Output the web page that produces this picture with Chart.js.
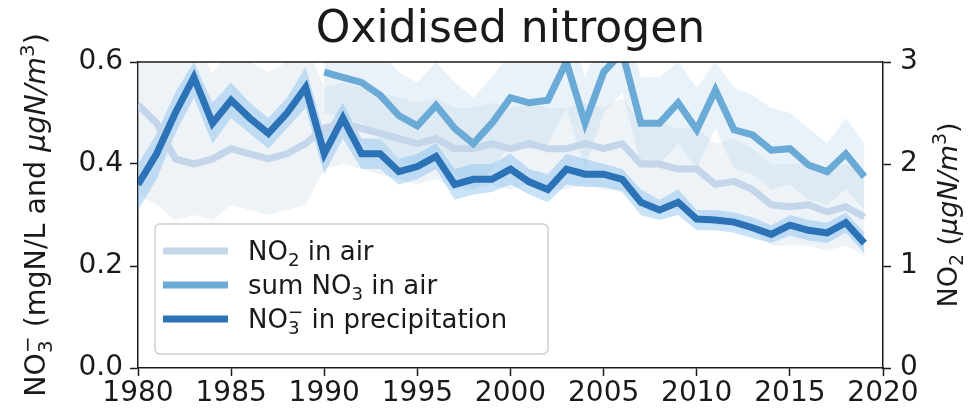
<!DOCTYPE html>
<html>
<head>
<meta charset="utf-8">
<script src="https://cdn.jsdelivr.net/npm/chart.js@4.4.1/dist/chart.umd.min.js"></script>
<style>
  html, body { margin: 0; padding: 0; background: #fff; }
  #chart { display: block; }
</style>
</head>
<body>
<canvas id="chart" width="979" height="418"></canvas>
<script>
const years = [1980, 1981, 1982, 1983, 1984, 1985, 1986, 1987, 1988, 1989,
               1990, 1991, 1992, 1993, 1994, 1995, 1996, 1997, 1998, 1999,
               2000, 2001, 2002, 2003, 2004, 2005, 2006, 2007, 2008, 2009,
               2010, 2011, 2012, 2013, 2014, 2015, 2016, 2017, 2018, 2019];

// NO2 in air, µgN/m3 (right axis)
const no2Air  = [2.58, 2.40, 2.05, 2.00, 2.05, 2.15, 2.10, 2.05, 2.10, 2.20,
                 2.35, 2.40, 2.35, 2.30, 2.25, 2.20, 2.25, 2.15, 2.15, 2.20,
                 2.15, 2.20, 2.15, 2.15, 2.20, 2.15, 2.20, 2.00, 2.00, 1.95,
                 1.95, 1.80, 1.83, 1.75, 1.60, 1.58, 1.60, 1.53, 1.58, 1.48];
const no2High = [3.10, 3.00, 3.20, 3.20, 2.90, 3.10, 3.00, 2.90, 3.00, 3.20,
                 2.75, 2.80, 2.75, 2.70, 2.65, 2.60, 2.65, 2.55, 2.55, 2.60,
                 2.55, 2.60, 2.55, 2.55, 2.60, 2.55, 2.65, 2.40, 2.40, 2.35,
                 2.35, 2.20, 2.25, 2.15, 2.00, 2.00, 2.00, 1.95, 2.00, 1.90];
const no2Low  = [1.70, 1.60, 1.45, 1.50, 1.45, 1.60, 1.55, 1.50, 1.55, 1.60,
                 1.95, 2.00, 1.95, 1.90, 1.85, 1.80, 1.85, 1.75, 1.75, 1.80,
                 1.75, 1.80, 1.75, 1.75, 1.80, 1.75, 1.75, 1.60, 1.60, 1.55,
                 1.55, 1.40, 1.40, 1.35, 1.20, 1.20, 1.20, 1.15, 1.20, 1.10];

// sum NO3 in air, µgN/m3 (left axis), series starts in 1990
const sumNo3Air  = [null, null, null, null, null, null, null, null, null, null,
                    0.580, 0.570, 0.560, 0.535, 0.495, 0.475, 0.515, 0.470, 0.440, 0.480,
                    0.530, 0.520, 0.525, 0.600, 0.480, 0.580, 0.620, 0.480, 0.480, 0.520,
                    0.467, 0.545, 0.467, 0.457, 0.427, 0.430, 0.398, 0.385, 0.420, 0.375];
const sumNo3High = [null, null, null, null, null, null, null, null, null, null,
                    0.66, 0.65, 0.64, 0.62, 0.58, 0.56, 0.60, 0.56, 0.53, 0.57,
                    0.62, 0.61, 0.61, 0.69, 0.57, 0.66, 0.70, 0.57, 0.57, 0.60,
                    0.55, 0.60, 0.55, 0.535, 0.51, 0.50, 0.47, 0.44, 0.49, 0.44];
const sumNo3Low  = [null, null, null, null, null, null, null, null, null, null,
                    0.50, 0.49, 0.48, 0.45, 0.41, 0.39, 0.43, 0.38, 0.35, 0.39,
                    0.44, 0.43, 0.44, 0.51, 0.39, 0.50, 0.54, 0.40, 0.40, 0.44,
                    0.39, 0.47, 0.39, 0.38, 0.35, 0.36, 0.33, 0.32, 0.35, 0.31];

// NO3- in precipitation, mgN/L (left axis)
const no3Precip  = [0.360, 0.420, 0.500, 0.570, 0.480, 0.525, 0.490, 0.460, 0.500, 0.550,
                    0.420, 0.490, 0.420, 0.420, 0.385, 0.395, 0.415, 0.360, 0.370, 0.370,
                    0.390, 0.365, 0.350, 0.390, 0.380, 0.380, 0.370, 0.325, 0.310, 0.325,
                    0.292, 0.290, 0.286, 0.275, 0.262, 0.280, 0.270, 0.265, 0.285, 0.245];
const precipHigh = [0.40, 0.46, 0.54, 0.60, 0.52, 0.56, 0.52, 0.49, 0.53, 0.59,
                    0.46, 0.52, 0.45, 0.45, 0.41, 0.42, 0.44, 0.39, 0.40, 0.40,
                    0.42, 0.39, 0.38, 0.42, 0.41, 0.40, 0.39, 0.35, 0.33, 0.35,
                    0.31, 0.31, 0.305, 0.295, 0.28, 0.30, 0.29, 0.285, 0.305, 0.265];
const precipLow  = [0.31, 0.37, 0.46, 0.53, 0.44, 0.49, 0.46, 0.43, 0.47, 0.51,
                    0.38, 0.45, 0.39, 0.39, 0.36, 0.37, 0.39, 0.33, 0.34, 0.345,
                    0.36, 0.34, 0.325, 0.36, 0.355, 0.355, 0.345, 0.30, 0.29, 0.30,
                    0.27, 0.27, 0.265, 0.255, 0.245, 0.26, 0.25, 0.245, 0.265, 0.225];

const xTicks = [1980, 1985, 1990, 1995, 2000, 2005, 2010, 2015, 2020];
const leftTicks = [0.0, 0.2, 0.4, 0.6];
const rightTicks = [0, 1, 2, 3];

const FONT = "'DejaVu Sans', 'Liberation Sans', sans-serif";
const INK = '#1a1a1a';

const COLORS = {
  no2:    '#c4d6ea',
  sum:    '#6aaad7',
  precip: '#2c72b7',
};

// rich text pieces: {t, it} plain, {sub, sup} small scripts
const chartTitle = 'Oxidised nitrogen';
const leftTitle  = [{ t: 'NO' }, { sub: '3', sup: '\u2212' }, { t: ' (mgN/L and ' }, { t: '\u03bcgN/m', it: true }, { sup: '3' }, { t: ')' }];
const rightTitle = [{ t: 'NO' }, { sub: '2' }, { t: ' (' }, { t: '\u03bcgN/m', it: true }, { sup: '3' }, { t: ')' }];
const legendLabels = [
  { parts: [{ t: 'NO' }, { sub: '2' }, { t: ' in air' }], color: COLORS.no2 },
  { parts: [{ t: 'sum NO' }, { sub: '3' }, { t: ' in air' }], color: COLORS.sum },
  { parts: [{ t: 'NO' }, { sub: '3', sup: '\u2212' }, { t: ' in precipitation' }], color: COLORS.precip },
];

const pts = arr => years.map((yr, i) => ({ x: yr, y: arr[i] }));

function richWidth(ctx, parts, size) {
  let w = 0;
  for (const p of parts) {
    if (p.sub != null || p.sup != null) {
      ctx.font = `${size * 0.7}px ${FONT}`;
      w += Math.max(p.sub ? ctx.measureText(p.sub).width : 0, p.sup ? ctx.measureText(p.sup).width : 0);
    } else {
      ctx.font = `${p.it ? 'italic ' : ''}${size}px ${FONT}`;
      w += ctx.measureText(p.t).width;
    }
  }
  return w;
}

function drawRich(ctx, parts, x, y, size) {
  ctx.textBaseline = 'alphabetic';
  ctx.textAlign = 'left';
  for (const p of parts) {
    if (p.sub != null || p.sup != null) {
      ctx.font = `${size * 0.7}px ${FONT}`;
      let w = 0;
      if (p.sub) { ctx.fillText(p.sub, x, y + size * 0.22); w = ctx.measureText(p.sub).width; }
      if (p.sup) { ctx.fillText(p.sup, x, y - size * 0.4); w = Math.max(w, ctx.measureText(p.sup).width); }
      x += w;
    } else {
      ctx.font = `${p.it ? 'italic ' : ''}${size}px ${FONT}`;
      ctx.fillText(p.t, x, y);
      x += ctx.measureText(p.t).width;
    }
  }
}

const decorPlugin = {
  id: 'decor',
  afterDraw(chart) {
    const { ctx, chartArea: a } = chart;
    ctx.save();

    // top spine
    ctx.strokeStyle = INK;
    ctx.lineWidth = 1.5;
    ctx.beginPath();
    ctx.moveTo(a.left, a.top);
    ctx.lineTo(a.right, a.top);
    ctx.stroke();

    // axis titles, both read bottom to top
    ctx.fillStyle = INK;
    const cy = (a.top + a.bottom) / 2;
    [[leftTitle, 35, 28.5], [rightTitle, 947, 27]].forEach(([parts, cx, size]) => {
      const w = richWidth(ctx, parts, size);
      ctx.save();
      ctx.translate(cx, cy);
      ctx.rotate(-Math.PI / 2);
      drawRich(ctx, parts, -w / 2, size * 0.36, size);
      ctx.restore();
    });

    // legend box
    const bx = a.left + 17, by = a.top + 162, bw = 393, bh = 130;
    ctx.fillStyle = 'rgba(255,255,255,0.8)';
    ctx.strokeStyle = '#cfcfcf';
    ctx.lineWidth = 1.5;
    ctx.beginPath();
    ctx.roundRect(bx, by, bw, bh, 5);
    ctx.fill();
    ctx.stroke();

    legendLabels.forEach((item, i) => {
      const y = by + 27 + i * 34;
      ctx.strokeStyle = item.color;
      ctx.lineWidth = 7;
      ctx.lineCap = 'butt';
      ctx.beginPath();
      ctx.moveTo(bx + 8, y);
      ctx.lineTo(bx + 73, y);
      ctx.stroke();
      ctx.fillStyle = INK;
      drawRich(ctx, item.parts, bx + 93, y + 9, 26);
    });

    ctx.restore();
  }
};

const band = (hi, lo, axis, fillColor, order) => ([
  { data: pts(hi), yAxisID: axis, borderWidth: 0, pointRadius: 0, fill: '+1', backgroundColor: fillColor, order, tension: 0 },
  { data: pts(lo), yAxisID: axis, borderWidth: 0, pointRadius: 0, fill: false, order, tension: 0 },
]);

const line = (arr, axis, color, order) => ({
  data: pts(arr), yAxisID: axis, borderColor: color, borderWidth: 7, pointRadius: 0,
  fill: false, order, tension: 0, borderJoinStyle: 'miter', spanGaps: false,
});

const axisStyle = {
  grid: { drawOnChartArea: false, tickLength: 8, tickColor: INK, tickWidth: 1.5 },
  border: { color: INK, width: 1.5 },
};

new Chart(document.getElementById('chart'), {
  type: 'line',
  data: {
    datasets: [
      line(no3Precip, 'y', COLORS.precip, 0),
      line(sumNo3Air, 'y', COLORS.sum, 1),
      line(no2Air, 'y2', COLORS.no2, 2),
      ...band(precipHigh, precipLow, 'y', 'rgba(125,185,235,0.42)', 3),
      ...band(sumNo3High, sumNo3Low, 'y', 'rgba(175,208,234,0.28)', 4),
      ...band(no2High, no2Low, 'y2', 'rgba(202,218,235,0.33)', 5),
    ]
  },
  options: {
    responsive: false,
    animation: false,
    layout: { padding: 0 },
    plugins: {
      legend: { display: false },
      tooltip: { enabled: false },
      title: {
        display: true,
        text: chartTitle,
        color: INK,
        fullSize: false,
        font: { family: FONT, size: 44, weight: 'normal', lineHeight: 1.2 },
        padding: { top: 4, bottom: 5.2 },
      },
    },
    scales: {
      x: {
        type: 'linear', min: 1980, max: 2020,
        afterBuildTicks: s => { s.ticks = xTicks.map(v => ({ value: v })); },
        ticks: { callback: v => String(v), font: { family: FONT, size: 28 }, color: INK, padding: 1, maxRotation: 0, autoSkip: false },
        afterFit: s => { s.height = 50; },
        ...axisStyle,
      },
      y: {
        position: 'left', min: 0, max: 0.6,
        afterBuildTicks: s => { s.ticks = leftTicks.map(v => ({ value: v })); },
        ticks: { callback: v => v.toFixed(1), font: { family: FONT, size: 28 }, color: INK, padding: 7 },
        afterFit: s => { s.width = 138; },
        ...axisStyle,
      },
      y2: {
        position: 'right', min: 0, max: 3,
        afterBuildTicks: s => { s.ticks = rightTicks.map(v => ({ value: v })); },
        ticks: { callback: v => String(v), font: { family: FONT, size: 28 }, color: INK, padding: 9 },
        afterFit: s => { s.width = 96; },
        ...axisStyle,
      },
    },
  },
  plugins: [decorPlugin],
});
</script>
</body>
</html>
